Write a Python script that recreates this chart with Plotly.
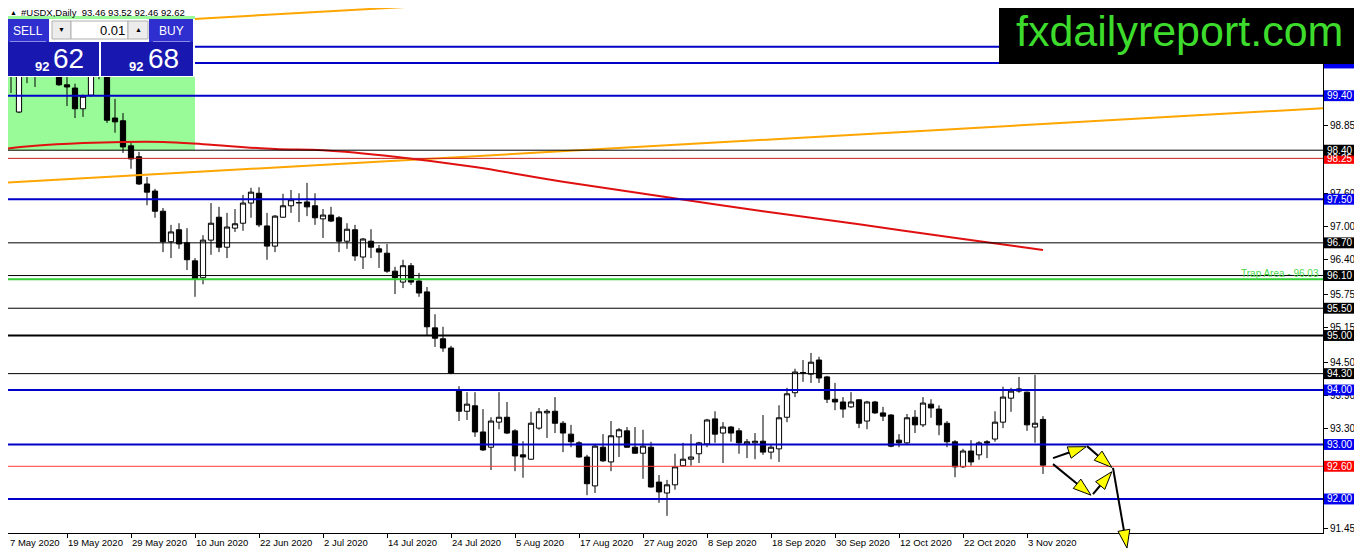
import math
import plotly.graph_objects as go

# one bar per trading day, bar 0 = 7 May 2020
date_labels = ["7 May 2020", "19 May 2020", "29 May 2020", "10 Jun 2020", "22 Jun 2020",
               "2 Jul 2020", "14 Jul 2020", "24 Jul 2020", "5 Aug 2020", "17 Aug 2020",
               "27 Aug 2020", "8 Sep 2020", "18 Sep 2020", "30 Sep 2020", "12 Oct 2020",
               "22 Oct 2020", "3 Nov 2020"]
date_bars = [0, 8, 16, 24, 32, 40, 48, 56, 64, 72, 80, 88, 96, 104, 112, 120, 128]

opens = [99.90, 100.05, 99.10, 100.10, 99.95, 100.10, 100.35, 99.95, 99.60, 99.54,
         99.16, 99.41, 99.85, 99.90, 98.99, 98.94, 98.48, 98.28, 97.78, 97.65,
         97.28, 96.72, 96.94, 96.70, 96.37, 96.06, 96.75, 97.17, 96.62, 96.97,
         97.06, 97.43, 97.61, 97.01, 96.64, 97.17, 97.38, 97.43, 97.45, 97.38,
         97.14, 97.21, 97.16, 96.73, 96.94, 96.44, 96.73, 96.59, 96.51, 96.18,
         95.98, 96.28, 96.00, 95.80, 95.14, 94.94, 94.77, 93.98, 93.61, 93.71,
         93.23, 92.95, 93.41, 93.50, 93.25, 92.81, 92.73, 93.30, 93.58, 93.61,
         93.39, 93.19, 93.03, 92.77, 92.24, 92.95, 92.68, 93.14, 93.25, 92.95,
         92.84, 92.95, 92.31, 92.11, 92.26, 92.61, 92.73, 92.83, 93.01, 93.47,
         93.21, 93.32, 93.25, 93.01, 93.03, 93.06, 92.86, 92.92, 93.50, 93.95,
         94.31, 94.29, 94.55, 94.24, 93.83, 93.78, 93.69, 93.82, 93.43, 93.78,
         93.58, 93.54, 93.08, 93.03, 93.50, 93.36, 93.74, 93.65, 93.39, 93.05,
         92.59, 92.88, 92.81, 93.05, 93.10, 93.41, 93.85, 93.98, 93.96, 93.32,
         93.46]
highs = [100.20, 100.20, 100.15, 100.35, 100.25, 100.50, 100.55, 100.15, 99.90, 99.62,
         99.42, 100.00, 100.05, 100.00, 99.34, 99.08, 98.53, 98.37, 97.91, 97.69,
         97.34, 97.03, 97.06, 96.97, 96.42, 96.84, 97.43, 97.36, 97.25, 97.32,
         97.58, 97.71, 97.72, 97.25, 97.21, 97.60, 97.67, 97.61, 97.80, 97.61,
         97.32, 97.36, 97.19, 97.06, 97.03, 96.79, 96.95, 96.66, 96.68, 96.26,
         96.39, 96.33, 96.15, 95.89, 95.39, 95.16, 94.81, 94.07, 93.96, 93.96,
         93.65, 93.50, 93.96, 93.78, 93.28, 93.06, 93.60, 93.67, 93.65, 93.87,
         93.43, 93.36, 93.06, 92.81, 93.01, 93.19, 93.43, 93.30, 93.32, 93.32,
         93.27, 93.05, 92.44, 92.35, 92.83, 93.03, 93.19, 93.05, 93.47, 93.61,
         93.41, 93.34, 93.30, 93.10, 93.21, 93.54, 92.99, 93.72, 94.04, 94.39,
         94.55, 94.68, 94.61, 94.26, 94.13, 93.87, 93.96, 93.83, 93.80, 93.80,
         93.69, 93.56, 93.19, 93.56, 93.63, 93.87, 93.83, 93.72, 93.43, 93.08,
         92.92, 93.08, 93.06, 93.08, 93.61, 94.06, 94.04, 94.24, 93.97, 94.28,
         93.52]
lows = [99.82, 99.45, 99.08, 99.63, 99.56, 99.85, 99.90, 99.58, 99.21, 98.99,
        99.01, 99.38, 99.70, 98.90, 98.72, 98.35, 98.06, 97.76, 97.39, 97.16,
        96.53, 96.42, 96.59, 96.20, 95.71, 95.94, 96.48, 96.53, 96.42, 96.90,
        96.92, 97.16, 96.99, 96.39, 96.53, 97.16, 97.25, 97.08, 97.19, 97.03,
        96.79, 97.08, 96.53, 96.59, 96.37, 96.22, 96.42, 96.24, 96.15, 95.76,
        95.87, 95.93, 95.71, 95.01, 94.79, 94.70, 94.29, 93.43, 93.45, 93.14,
        92.88, 92.53, 93.28, 93.19, 92.51, 92.39, 92.72, 93.27, 93.12, 93.21,
        92.86, 92.95, 92.76, 92.07, 92.11, 92.68, 92.51, 92.77, 92.94, 92.83,
        92.37, 92.21, 91.93, 91.69, 92.17, 92.59, 92.61, 92.66, 92.95, 93.03,
        92.66, 93.05, 92.83, 92.75, 92.73, 92.81, 92.73, 92.68, 93.41, 93.87,
        94.15, 94.13, 94.13, 93.76, 93.63, 93.49, 93.67, 93.30, 93.28, 93.56,
        93.43, 92.95, 92.95, 93.01, 93.21, 93.32, 93.49, 93.17, 92.95, 92.40,
        92.57, 92.61, 92.72, 92.75, 93.05, 93.30, 93.60, 93.95, 93.25, 93.03,
        92.46]
closes = [100.05, 99.90, 99.95, 99.95, 100.10, 100.35, 100.30, 99.60, 99.56, 99.16,
          99.39, 99.85, 99.90, 98.95, 98.92, 98.46, 98.24, 97.78, 97.63, 97.28,
          96.72, 96.90, 96.68, 96.39, 96.04, 96.75, 97.06, 96.62, 96.99, 97.05,
          97.43, 97.63, 97.03, 96.64, 97.19, 97.38, 97.49, 97.44, 97.36, 97.16,
          97.21, 97.10, 96.73, 96.95, 96.46, 96.77, 96.62, 96.53, 96.18, 96.06,
          96.28, 95.98, 95.78, 95.16, 94.95, 94.77, 94.31, 93.61, 93.74, 93.23,
          92.90, 93.43, 93.50, 93.21, 92.79, 92.77, 93.39, 93.60, 93.61, 93.39,
          93.21, 93.05, 92.77, 92.28, 92.97, 92.70, 93.16, 93.27, 92.95, 92.84,
          92.97, 92.22, 92.13, 92.26, 92.59, 92.73, 92.77, 93.03, 93.45, 93.19,
          93.32, 93.21, 93.03, 93.05, 93.06, 92.86, 92.95, 93.49, 93.93, 94.33,
          94.32, 94.51, 94.22, 93.83, 93.78, 93.65, 93.78, 93.39, 93.78, 93.58,
          93.52, 92.97, 93.03, 93.49, 93.36, 93.76, 93.67, 93.36, 93.05, 92.59,
          92.88, 92.68, 93.03, 93.03, 93.41, 93.87, 93.98, 94.02, 93.36, 93.39,
          92.62]

# moving average (red curve), read at a few bars
ma_bars = [0, 4, 10, 15, 20, 25, 34, 40, 49, 59, 70, 82, 95, 107, 120, 130]
ma_vals = [98.42, 98.48, 98.53, 98.55, 98.55, 98.51, 98.42, 98.40, 98.28, 98.09,
           97.82, 97.56, 97.28, 97.04, 96.77, 96.57]

# orange channel lines
chan_bars = [0, 165]
chan_upper = [100.61, 101.98]
chan_lower = [97.80, 99.17]

# horizontal levels
levels = [100.30, 100.00, 99.40, 98.40, 98.25, 97.50, 96.70, 96.10, 96.03, 95.50,
          95.00, 94.30, 94.00, 93.00, 92.60, 92.00]
level_colors = ["#0000c8", "#0000c8", "#0000c8", "#000000", "#c81e1e", "#0000c8",
                "#000000", "#000000", "#32cd32", "#000000", "#000000", "#000000",
                "#0000c8", "#0000c8", "#ff3a3a", "#0000c8"]
level_widths = [2, 2, 2, 1, 1, 2, 1, 1, 2, 1, 2, 1, 2, 2, 1, 2]

label_prices = [100.00, 99.40, 98.25, 98.40, 97.50, 96.70, 96.10, 95.50, 95.00, 94.30,
                94.00, 93.00, 92.60, 92.00]
label_colors = ["#0000ee", "#0000ee", "#ff0000", "#000000", "#0000ee", "#000000",
                "#000000", "#000000", "#000000", "#000000", "#0000ee", "#0000ee",
                "#ff0000", "#0000ee"]

price_ticks = [91.45, 93.30, 93.90, 94.50, 95.15, 95.75, 96.40, 97.00, 97.60, 98.85]

trap_label = "Trap Area - 96.03"

# forecast arrows (bar, price) start -> end
arrow_b0 = [131.25, 135.5, 131.25, 136.25, 138.75]
arrow_p0 = [92.75, 92.97, 92.64, 92.09, 92.57]
arrow_b1 = [135.4, 138.6, 136.0, 138.6, 140.5]
arrow_p1 = [92.96, 92.58, 92.07, 92.50, 91.10]

header = "#USDX,Daily  93.46 93.52 92.46 92.62"

# the page puts the figure 8px in from the window corner
OFF = 8
FIG_W, FIG_H = 1362 - OFF, 554 - OFF
L, T = 8, 8            # plot area corner, window pixels
W, H = 1315, 525       # plot area size
X_RANGE = (0.625, 165)
Y_RANGE = (91.376, 101.009)
FONT = "Liberation Sans"


def to_px(b, p):
    x = L + (b - X_RANGE[0]) / (X_RANGE[1] - X_RANGE[0]) * W
    y = T + (Y_RANGE[1] - p) / (Y_RANGE[1] - Y_RANGE[0]) * H
    return x, y


def pp(x, y):
    # window pixel -> paper coords
    return (x - L) / W, 1 - (y - T) / H


def prect(x0, y0, x1, y1, fill, line_color=None):
    a, b = pp(x0, y0)
    c, d = pp(x1, y1)
    return dict(type="rect", xref="paper", yref="paper", x0=a, y0=d, x1=c, y1=b,
                fillcolor=fill, layer="above",
                line=dict(width=1 if line_color else 0, color=line_color or fill))


def ptext(x, y, text, size, color, anchor="center", bold=False):
    a, b = pp(x, y)
    if bold:
        text = "<b>" + text + "</b>"
    return dict(x=a, y=b, xref="paper", yref="paper", text=text, showarrow=False,
                xanchor=anchor, yanchor="middle", borderpad=0,
                font=dict(family=FONT, size=size, color=color))


fig = go.Figure()

fig.add_trace(go.Scatter(x=chan_bars, y=chan_upper, mode="lines",
                         line=dict(color="#ffa500", width=2), hoverinfo="skip"))
fig.add_trace(go.Scatter(x=chan_bars, y=chan_lower, mode="lines",
                         line=dict(color="#ffa500", width=2), hoverinfo="skip"))
fig.add_trace(go.Scatter(x=ma_bars, y=ma_vals, mode="lines",
                         line=dict(color="#e01010", width=2, shape="spline"),
                         hoverinfo="skip"))

fig.add_trace(go.Candlestick(
    x=list(range(len(opens))), open=opens, high=highs, low=lows, close=closes,
    increasing=dict(line=dict(color="black", width=1), fillcolor="white"),
    decreasing=dict(line=dict(color="black", width=1), fillcolor="black"),
    whiskerwidth=0, hoverinfo="skip"))

shapes = []
annotations = []

# green zone behind the first candles
shapes.append(dict(type="rect", xref="x", yref="y", x0=0, x1=24, y0=98.40, y1=100.90,
                   fillcolor="#98fb98", line=dict(width=0), layer="below"))

for p, c, w in zip(levels, level_colors, level_widths):
    shapes.append(dict(type="line", xref="paper", yref="y", x0=0, x1=1, y0=p, y1=p,
                       line=dict(color=c, width=w), layer="above"))

# price labels on the right scale
bx0 = (1324 - L) / W
bx1 = (1355 - L) / W
for p, c in zip(label_prices, label_colors):
    shapes.append(dict(type="rect", xref="paper", yref="y", x0=bx0, x1=bx1,
                       y0=p - 0.1, y1=p + 0.1, fillcolor=c, line=dict(width=0),
                       layer="above"))
    if p < 100:
        annotations.append(dict(x=(bx0 + bx1) / 2, y=p, xref="paper", yref="y",
                                text=f"{p:.2f}", showarrow=False, borderpad=0,
                                xanchor="center", yanchor="middle",
                                font=dict(family=FONT, size=10, color="white")))

annotations.append(dict(x=(1320 - L) / W, y=96.03, xref="paper", yref="y",
                        text=trap_label, showarrow=False, xanchor="right",
                        yanchor="bottom", borderpad=0, yshift=-1,
                        font=dict(family=FONT, size=10, color="#4cd94c")))

# arrows: black shaft + yellow head
for b0, p0, b1, p1 in zip(arrow_b0, arrow_p0, arrow_b1, arrow_p1):
    sx, sy = to_px(b0, p0)
    ex, ey = to_px(b1, p1)
    n = math.hypot(ex - sx, ey - sy)
    ux, uy = (ex - sx) / n, (ey - sy) / n
    hx, hy = ex - 18 * ux, ey - 18 * uy
    a0, a1 = pp(sx, sy)
    c0, c1 = pp(hx, hy)
    shapes.append(dict(type="line", xref="paper", yref="paper", x0=a0, y0=a1,
                       x1=c0, y1=c1, line=dict(color="black", width=2), layer="above"))
    pts = [pp(ex, ey), pp(hx - 6 * uy, hy + 6 * ux), pp(hx + 6 * uy, hy - 6 * ux)]
    path = "M {:.5f},{:.5f} L {:.5f},{:.5f} L {:.5f},{:.5f} Z".format(
        pts[0][0], pts[0][1], pts[1][0], pts[1][1], pts[2][0], pts[2][1])
    shapes.append(dict(type="path", xref="paper", yref="paper", path=path,
                       fillcolor="#ffff00", line=dict(color="black", width=1),
                       layer="above"))

# trading panel (top left)
shapes.append(prect(3, 0, 196, 16, "white"))
shapes.append(prect(3, 16, 195, 19, "#98fb98"))
shapes.append(prect(4, 19, 195, 77, "white"))
shapes.append(prect(6, 19, 49, 42, "#2f2fcf"))
shapes.append(prect(149, 19, 193, 42, "#2f2fcf"))
shapes.append(prect(52, 21, 71, 39, "#ececec", "#b0b0b0"))
shapes.append(prect(71, 21, 128, 39, "white", "#b0b0b0"))
shapes.append(prect(128, 21, 148, 39, "#ececec", "#b0b0b0"))
shapes.append(prect(6, 42, 99, 76, "#1818b0"))
shapes.append(prect(101, 42, 193, 76, "#1818b0"))
shapes.append(prect(10, 41, 46, 42, "#8c8ce6"))
shapes.append(prect(153, 41, 190, 42, "#8c8ce6"))

annotations.append(ptext(13, 12.5, "▲", 7, "black"))
annotations.append(ptext(20, 12.5, header, 9.5, "black", anchor="left"))
annotations.append(ptext(27.5, 31, "SELL", 12, "white"))
annotations.append(ptext(171, 31, "BUY", 12, "white"))
annotations.append(ptext(61.5, 30, "▼", 7, "black"))
annotations.append(ptext(138, 30, "▲", 7, "black"))
annotations.append(ptext(126, 30.5, "0.01", 13, "black", anchor="right"))
annotations.append(ptext(42, 67, "92", 13, "white", bold=True))
annotations.append(ptext(68.5, 58.5, "62", 28, "white"))
annotations.append(ptext(136, 67, "92", 13, "white", bold=True))
annotations.append(ptext(163.5, 58.5, "68", 28, "white"))

# logo (top right)
shapes.append(prect(999, 0, 1362, 64, "black"))
annotations.append(ptext(1179, 31, "fxdailyreport.com", 43, "#3ddc2c"))

# date labels, left-aligned on the ticks
for b, lab in zip(date_bars, date_labels):
    x_px = max(to_px(b, Y_RANGE[0])[0], L + 1)
    annotations.append(dict(x=(x_px - L) / W, y=0, xref="paper", yref="paper",
                            text=lab, showarrow=False, xanchor="left", yanchor="top",
                            yshift=-3, borderpad=0,
                            font=dict(family=FONT, size=9.5, color="black")))

fig.update_layout(
    width=FIG_W, height=FIG_H, autosize=False,
    margin=dict(l=L - OFF, r=FIG_W - (L - OFF) - W, t=T - OFF, b=FIG_H - (T - OFF) - H),
    paper_bgcolor="white", plot_bgcolor="white",
    showlegend=False, hovermode=False,
    boxgap=0.35, boxgroupgap=0,
    shapes=shapes, annotations=annotations,
    font=dict(family=FONT, size=10, color="black"),
    xaxis=dict(range=list(X_RANGE), tickvals=date_bars, showticklabels=False,
               ticks="outside", ticklen=4, tickcolor="black",
               showgrid=False, zeroline=False, showline=True, mirror=False,
               linecolor="black", linewidth=1,
               rangeslider=dict(visible=False)),
    yaxis=dict(range=list(Y_RANGE), side="right", tickvals=price_ticks,
               ticktext=[f"{v:.2f}" for v in price_ticks],
               ticks="outside", ticklen=4, tickcolor="black",
               tickfont=dict(family=FONT, size=10, color="black"),
               showgrid=False, zeroline=False, showline=True, mirror=True,
               linecolor="black", linewidth=1),
)

fig.write_html("out.html")
